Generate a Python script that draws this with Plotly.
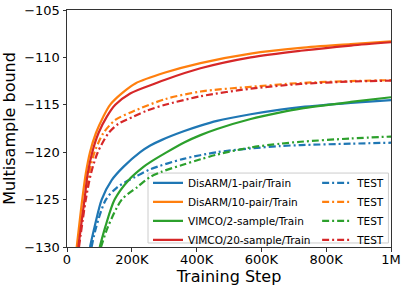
import plotly.graph_objects as go

# Training step in thousands, multisample bound values
disarm1_train_x = [71, 85, 107, 138, 174, 226, 257, 293, 360, 412, 463, 567, 659, 721, 876, 1000]
disarm1_train_y = [-130, -127.9, -125, -122.95, -121.55, -120, -119.3, -118.7, -117.8, -117.2, -116.7, -116.0, -115.5, -115.25, -114.8, -114.5]
disarm1_test_x = [76, 90, 120, 155, 211, 257, 360, 463, 567, 659, 721, 876, 1000]
disarm1_test_y = [-130, -127.9, -125, -123.7, -122.6, -121.8, -120.7, -120.0, -119.6, -119.35, -119.25, -119.1, -119.0]

disarm10_train_x = [30, 47, 58, 71, 89, 112, 133, 169, 211, 303, 412, 567, 721, 876, 1000]
disarm10_train_y = [-130, -125, -122.25, -120, -118, -116.25, -115, -113.8, -112.75, -111.6, -110.6, -109.6, -109.0, -108.6, -108.3]
disarm10_test_x = [33, 55, 68, 85, 112, 149, 200, 303, 412, 567, 721, 876, 1000]
disarm10_test_y = [-130, -125, -122.25, -120, -118, -116.6, -115.75, -114.4, -113.6, -113.1, -112.7, -112.5, -112.4]

vimco2_train_x = [101, 118, 147, 190, 236, 257, 303, 360, 412, 463, 567, 659, 721, 876, 1000]
vimco2_train_y = [-130, -127.9, -125, -122.95, -121.55, -121.05, -120.1, -119.0, -118.2, -117.55, -116.5, -115.8, -115.4, -114.7, -114.2]
vimco2_test_x = [105, 126, 169, 216, 257, 293, 360, 412, 463, 567, 659, 721, 876, 1000]
vimco2_test_y = [-130, -127.9, -125, -123.7, -122.6, -122.05, -121.3, -120.75, -120.25, -119.5, -119.1, -118.9, -118.55, -118.35]

vimco20_train_x = [35, 54, 64, 78, 97, 123, 149, 195, 272, 303, 412, 567, 721, 876, 1000]
vimco20_train_y = [-130, -125, -122.25, -120, -118, -116.25, -115, -113.8, -112.75, -112.35, -111.15, -110.0, -109.3, -108.75, -108.4]
vimco20_test_x = [37, 58, 74, 95, 128, 159, 205, 247, 303, 412, 567, 721, 876, 1000]
vimco20_test_y = [-130, -125, -122.25, -120, -118, -117, -116.25, -115.6, -115.0, -114.1, -113.3, -112.8, -112.55, -112.45]

series = [
    ("DisARM/1-pair/Train", disarm1_train_x, disarm1_train_y, disarm1_test_x, disarm1_test_y, "#1f77b4"),
    ("DisARM/10-pair/Train", disarm10_train_x, disarm10_train_y, disarm10_test_x, disarm10_test_y, "#ff7f0e"),
    ("VIMCO/2-sample/Train", vimco2_train_x, vimco2_train_y, vimco2_test_x, vimco2_test_y, "#2ca02c"),
    ("VIMCO/20-sample/Train", vimco20_train_x, vimco20_train_y, vimco20_test_x, vimco20_test_y, "#d62728"),
]

x_tickvals = [0, 200, 400, 600, 800, 1000]
x_ticktext = ["0", "200K", "400K", "600K", "800K", "1M"]
y_tickvals = [-105, -110, -115, -120, -125, -130]

fig = go.Figure()
for name, tx, ty, vx, vy, col in series:
    fig.add_trace(go.Scatter(x=tx, y=ty, mode="lines", name=name,
                             line=dict(color=col, width=2.2, shape="spline", smoothing=0.8),
                             legend="legend"))
    fig.add_trace(go.Scatter(x=vx, y=vy, mode="lines", name="TEST",
                             line=dict(color=col, width=2.2, dash="7px,3px,2px,3px",
                                       shape="spline", smoothing=0.8),
                             legend="legend2"))

lfont = dict(family="DejaVu Sans", size=10.5, color="black")
fig.update_layout(
    width=407, height=288,
    margin=dict(l=67, r=16, t=10, b=41),
    plot_bgcolor="white", paper_bgcolor="white",
    font=dict(family="DejaVu Sans", size=13, color="black"),
    showlegend=True,
    legend=dict(x=0.25, y=0.332, xanchor="left", yanchor="top",
                bgcolor="rgba(0,0,0,0)", font=lfont, tracegroupgap=0, itemwidth=30),
    legend2=dict(x=0.772, y=0.332, xanchor="left", yanchor="top",
                 bgcolor="rgba(0,0,0,0)", font=lfont, tracegroupgap=0, itemwidth=30),
    shapes=[dict(type="rect", xref="paper", yref="paper", x0=0.25, x1=0.992, y0=0.017, y1=0.312,
                 line=dict(color="#cccccc", width=1), fillcolor="rgba(255,255,255,0.8)",
                 layer="below")],
)
fig.update_xaxes(range=[0, 1000], tickvals=x_tickvals, ticktext=x_ticktext,
                 showgrid=False, zeroline=False, showline=True, linecolor="#333333",
                 linewidth=1, mirror=True, ticks="outside", ticklen=3.5, tickcolor="#333333",
                 automargin=False, ticklabelstandoff=-3,
                 title=dict(text="Training Step", standoff=0), tickfont=dict(size=13))
fig.update_yaxes(range=[-130, -105], tickvals=y_tickvals,
                 showgrid=False, zeroline=False, showline=True, linecolor="#333333",
                 linewidth=1, mirror=True, ticks="outside", ticklen=3.5, tickcolor="#333333",
                 automargin=False,
                 title=dict(text="Multisample bound", standoff=6), tickfont=dict(size=13))

fig.write_html("out.html", config={"displayModeBar": False},
               post_script="document.body.style.margin='0';document.body.style.overflow='hidden';")
